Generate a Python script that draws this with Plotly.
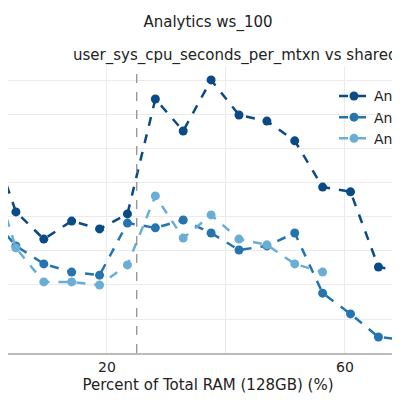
import plotly.graph_objects as go

# x: percent of 128GB RAM
pct_ram = [3.125, 4.69, 9.38, 14.06, 18.75, 23.44, 28.13, 32.81, 37.5, 42.19, 46.88, 51.56, 56.25, 60.94, 65.63, 70.31]
series_names = ["Analytics ws_100 a", "Analytics ws_100 b", "Analytics ws_100 c"]
dark_vals = [4.94, 4.15, 3.35, 3.88, 3.65, 4.09, 7.47, 6.53, 8.03, 7.0, 6.82, 6.24, 4.88, 4.74, 2.53, 2.38]
mid_vals = [3.47, 3.15, 2.62, 2.38, 2.29, 3.82, 3.68, 3.91, 3.53, 3.03, 3.15, 3.53, 1.76, 1.15, 0.47, 0.38]
light_vals = [3.97, 3.09, 2.09, 2.09, 2.0, 2.59, 4.62, 3.38, 4.06, 3.35, 3.18, 2.62, 2.38]
tick_vals = [20, 40, 60]
tick_text = ["20", "", "60"]
marker_x = 25.0

colors = ["#0b4a85", "#2474b0", "#6aaed6"]

fig = go.Figure()
for name, vals, c in zip(series_names, [dark_vals, mid_vals, light_vals], colors):
    fig.add_trace(go.Scatter(
        x=pct_ram[:len(vals)], y=vals, name=name, mode="lines+markers",
        line=dict(color=c, width=2.5, dash="dash"),
        marker=dict(color=c, size=9),
        cliponaxis=False,
    ))

fig.add_shape(type="line", x0=marker_x, x1=marker_x, y0=0, y1=1, yref="paper",
              line=dict(color="#888888", width=1.2, dash="dash"))

fig.update_layout(
    width=400, height=400,
    margin=dict(l=0, r=0, t=58, b=55, autoexpand=False),
    plot_bgcolor="white", paper_bgcolor="white",
    font=dict(family="DejaVu Sans", color="#222222", size=14),
    title=dict(text="Analytics ws_100", x=0.5, xanchor="center", y=0.965, yanchor="middle",
               font=dict(size=15)),
    showlegend=True,
    legend=dict(x=0.815, y=0.95, xanchor="left", yanchor="top", bgcolor="rgba(0,0,0,0)",
                font=dict(size=14), tracegroupgap=0),
    annotations=[dict(text="user_sys_cpu_seconds_per_mtxn vs shared_buffers", xref="paper", yref="paper",
                      x=63 / 400, y=1.035, xanchor="left", yanchor="middle", showarrow=False,
                      font=dict(size=15))],
)
fig.update_xaxes(range=[3.36, 70.6], tickvals=tick_vals, ticktext=tick_text, showgrid=True,
                 gridcolor="#ebebeb", zeroline=False, showline=True, linecolor="#bbbbbb", linewidth=1.5,
                 title=dict(text="Percent of Total RAM (128GB) (%)", font=dict(size=15), standoff=6),
                 tickfont=dict(size=14))
fig.update_yaxes(range=[0, 8.44], dtick=1, showgrid=True, gridcolor="#ebebeb", zeroline=False,
                 showticklabels=False, showline=False)

fig.write_html("out.html")
